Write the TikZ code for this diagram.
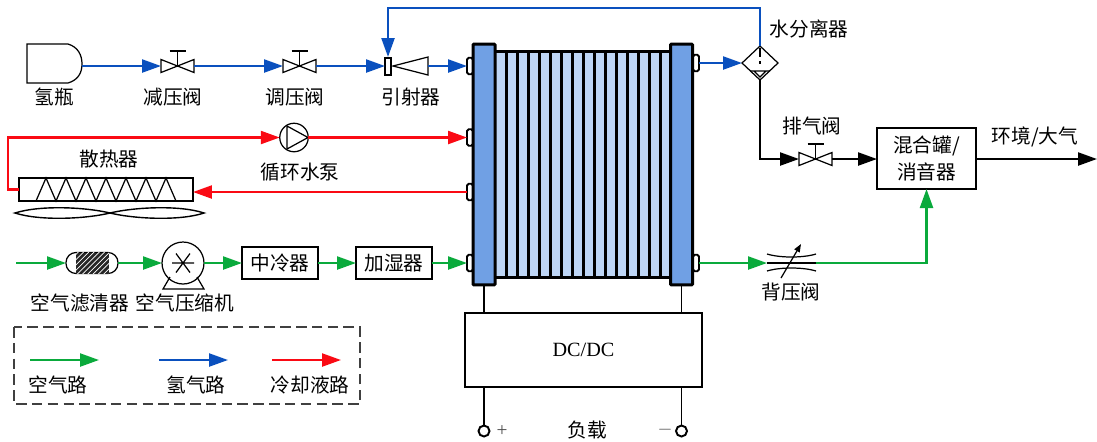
\documentclass[tikz,border=0pt]{standalone}
\usepackage{fontspec}
\setmainfont{Liberation Serif}
\newfontfamily\cjk{Noto Sans CJK SC}
\usetikzlibrary{arrows.meta,shapes.geometric,patterns}
\definecolor{hblue}{RGB}{10,80,190}
\definecolor{agreen}{RGB}{10,170,60}
\definecolor{cred}{RGB}{250,10,20}
\definecolor{plate}{RGB}{112,160,228}
\definecolor{cell}{RGB}{190,214,246}
\tikzstyle{hline}=[hblue, line width=1.3pt, ->]
\tikzstyle{aline}=[agreen, line width=1.3pt, ->]
\tikzstyle{cline}=[cred, line width=1.3pt, ->]
\tikzstyle{bline}=[black, line width=1.3pt, ->]
\tikzstyle{wire}=[black, line width=1.1pt]
\tikzstyle{lab}=[font=\cjk\fontsize{11.2}{15.3}\selectfont, inner sep=0pt, align=center]
\tikzstyle{slot}=[inner sep=0pt, outer sep=0pt, minimum width=0.66cm, minimum height=0.28cm]
\tikzstyle{unit}=[draw, line width=0.8pt, inner sep=0pt, outer sep=0pt, lab]
\tikzstyle{port}=[draw, line width=1.1pt, fill=white, rounded corners=1pt, inner sep=0pt, outer sep=0pt, minimum width=0.12cm, minimum height=0.33cm]
\tikzstyle{endplate}=[draw, line width=1.7pt, fill=plate, rounded corners=0.5pt, inner sep=0pt, outer sep=0pt, minimum width=0.44cm, minimum height=4.82cm]
\tikzstyle{term}=[draw, circle, line width=1.1pt, fill=white, inner sep=0pt, outer sep=0pt, minimum size=0.22cm]
\tikzset{
  valvesym/.pic={
    \draw[line width=0.7pt] (-16.5,-6.5) -- (16.5,6.5) -- (16.5,-6.5) -- (-16.5,6.5) -- cycle;
    \draw[line width=0.7pt] (0,0) -- (0,-15) (-8,-15) -- (8,-15);
  }
}
\begin{document}
\begin{tikzpicture}[x=0.02cm, y=-0.02cm, >={Triangle[length=0.38cm,width=0.26cm]}]
  \useasboundingbox (0,0) rectangle (1097,441);

  % stack
  \fill[cell] (495,51) rectangle (670,277);
  \foreach \x in {506,517,...,660}
    \draw[line width=1.7pt] (\x,51) -- (\x,277);
  \draw[line width=1.7pt] (495,51) -- (670,51) (495,277) -- (670,277);
  \node[port] (P1) at (470,66) {};
  \node[port] (P2) at (470,137.5) {};
  \node[port] (P3) at (470,192) {};
  \node[port] (P4) at (470,263) {};
  \node[port] (P5) at (696,63) {};
  \node[port] (P6) at (696,263) {};
  \node[endplate] (PL) at (484,164.5) {};
  \node[endplate] (PR) at (681.5,164.5) {};

  % hydrogen
  \node[slot, minimum width=1.1cm] (tank) at (54.5,66) {};
  \draw[line width=0.7pt] (27,44) -- (68,44) .. controls (78,47) and (82,55) .. (82,64) .. controls (82,73) and (78,80) .. (68,83) -- (27,83) -- cycle;
  \node[slot] (V1) at (177.5,66) {};
  \pic at (V1) {valvesym};
  \node[slot] (V2) at (299.5,66) {};
  \pic at (V2) {valvesym};
  \node[slot, minimum width=0.86cm, minimum height=0.36cm] (EJ) at (406.5,66) {};
  \draw[line width=0.7pt] (385,58) rectangle (391,75);
  \draw[line width=0.7pt] (393,66) -- (428,57) -- (428,75) -- cycle;
  \coordinate (EJtop) at (388,57);
  \coordinate (TR) at (388,8);
  \node[draw, diamond, aspect=1, line width=0.7pt, inner sep=0pt, outer sep=0pt, minimum width=0.72cm, minimum height=0.68cm] (SEP) at (760,63) {};
  \draw[line width=0.7pt, dash pattern=on 5pt off 2.5pt] (760,48) -- (760,64);
  \draw[line width=0.7pt] (750,71) -- (770,71) (754,71) -- (760,77) -- (766,71);
  \path[hline] (tank.east) edge (V1.west);
  \path[hline] (V1.east) edge (V2.west);
  \path[hline] (V2.east) edge (EJ.west);
  \path[hline] (EJ.east) edge (P1.west);
  \path[hline] (P5.east) edge (SEP.west);
  \draw[hline] (SEP.north) |- (TR) -- (EJtop);

  % coolant
  \node[draw, circle, line width=0.7pt, inner sep=0pt, outer sep=0pt, minimum size=0.57cm] (PUMP) at (294,137.5) {};
  \draw[line width=0.7pt] (287,126) -- (308,137.5) -- (287,149) -- cycle;
  \node[draw, line width=0.8pt, inner sep=0pt, outer sep=0pt, minimum width=3.48cm, minimum height=0.46cm] (RAD) at (106,189.5) {};
  \draw[line width=0.7pt] (36,201) \foreach \x in {46,66,...,166} { -- (\x,178) -- (\x+10,201) };
  \draw[line width=0.8pt] (15,213) .. controls (40,205) and (85,207) .. (110,213) .. controls (85,219) and (40,221) .. (15,213) -- cycle;
  \draw[line width=0.8pt] (110,213) .. controls (135,207) and (180,205) .. (204,213) .. controls (180,221) and (135,219) .. (110,213) -- cycle;
  \coordinate (CL) at (8,137.5);
  \draw[cline] (RAD.west) -| (CL) -- (PUMP.west);
  \path[cline] (PUMP.east) edge (P2.west);
  \draw[cline] (P3.west) -- (RAD.east |- P3.west);

  % air
  \coordinate (IN) at (16,263);
  \node[draw, line width=0.7pt, rounded corners=0.2cm, inner sep=0pt, outer sep=0pt, minimum width=1.04cm, minimum height=0.42cm] (FIL) at (92,263) {};
  \fill[black!85] (76,252.5) rectangle (109,273.5);
  \fill[pattern=north east lines, pattern color=white] (76,252.5) rectangle (109,273.5);
  \node[draw, circle, line width=0.7pt, inner sep=0pt, outer sep=0pt, minimum size=0.84cm] (CP) at (183,263) {};
  \draw[line width=0.7pt] (172,263) -- (194,263) (176,253.5) -- (190,272.5) (176,272.5) -- (190,253.5);
  \draw[line width=0.7pt] (170,277) -- (163,289) -- (204,289) -- (197,277);
  \node[unit, minimum width=1.52cm, minimum height=0.64cm] (IC) at (280,263) {中冷器};
  \node[unit, minimum width=1.52cm, minimum height=0.64cm] (HUM) at (394,263) {加湿器};
  \path[aline] (IN) edge (FIL.west);
  \path[aline] (FIL.east) edge (CP.west);
  \path[aline] (CP.east) edge (IC.west);
  \path[aline] (IC.east) edge (HUM.west);
  \path[aline] (HUM.east) edge (P4.west);

  % exhaust
  \node[slot] (V3) at (815.5,159) {};
  \pic at (V3) {valvesym};
  \node[unit, minimum width=1.98cm, minimum height=1.22cm] (MIX) at (926.5,158.5) {混合罐/\\消音器};
  \coordinate (OUT) at (1097,159);
  \node[slot, minimum width=0.98cm, minimum height=0.36cm] (BP) at (791.5,263) {};
  \draw[line width=0.7pt] (767,254) .. controls (780,258) and (803,258) .. (816,254);
  \draw[line width=0.7pt] (767,271) .. controls (780,267) and (803,267) .. (816,271);
  \draw[line width=0.7pt] (767,263) -- (816,263);
  \draw[line width=0.7pt, -{Triangle[length=0.16cm,width=0.12cm]}] (781,278) -- (801,244);
  \draw[bline] (SEP.south) |- (V3.west);
  \path[bline] (V3.east) edge (V3.east -| MIX.west);
  \path[bline] (V3.east -| MIX.east) edge (OUT);
  \path[aline] (P6.east) edge (BP.west);
  \draw[aline] (BP.east) -| (MIX.south);

  % DC/DC
  \node[draw, line width=1pt, inner sep=0pt, outer sep=0pt, minimum width=4.74cm, minimum height=1.48cm, font=\fontsize{11.5}{14}\selectfont] (DC) at (583.5,350) {DC/DC};
  \node[term] (TP) at (484,431) {};
  \node[term] (TN) at (681.5,431) {};
  \draw[wire] (PL.south) -- (PL.south |- DC.north);
  \draw[wire] (PR.south) -- (PR.south |- DC.north);
  \draw[wire] (PL.south |- DC.south) -- (TP.north);
  \draw[wire] (PR.south |- DC.south) -- (TN.north);
  \node[font=\fontsize{11}{13}\selectfont, text=black!70] (LP) at (502,431) {+};
  \node[font=\fontsize{11}{13}\selectfont, text=black!70] (LN) at (665,430) {$-$};

  % labels
  \node[lab] (L1) at (54,97) {氢瓶};
  \node[lab] (L2) at (173,97) {减压阀};
  \node[lab] (L3) at (295,97) {调压阀};
  \node[lab] (L4) at (411,97) {引射器};
  \node[lab] (L5) at (109,159) {散热器};
  \node[lab] (L6) at (300,172) {循环水泵};
  \node[lab] (L7) at (80,303) {空气滤清器};
  \node[lab] (L8) at (185,303) {空气压缩机};
  \node[lab] (L9) at (809,29) {水分离器};
  \node[lab] (L10) at (812,126) {排气阀};
  \node[lab] (L11) at (1035,137) {环境/大气};
  \node[lab] (L12) at (791,292) {背压阀};
  \node[lab] (L13) at (587,430) {负载};

  % legend
  \draw[black!75, line width=0.8pt, dash pattern=on 6pt off 3pt] (14,327) rectangle (360,404);
  \coordinate (A1) at (30,360);
  \coordinate (A2) at (99,360);
  \coordinate (H1) at (159,360);
  \coordinate (H2) at (228,360);
  \coordinate (C1) at (272,360);
  \coordinate (C2) at (341,360);
  \path[aline] (A1) edge (A2);
  \path[hline] (H1) edge (H2);
  \path[cline] (C1) edge (C2);
  \node[lab] (L14) at (58,385) {空气路};
  \node[lab] (L15) at (196,385) {氢气路};
  \node[lab] (L16) at (310,385) {冷却液路};
\end{tikzpicture}
\end{document}
